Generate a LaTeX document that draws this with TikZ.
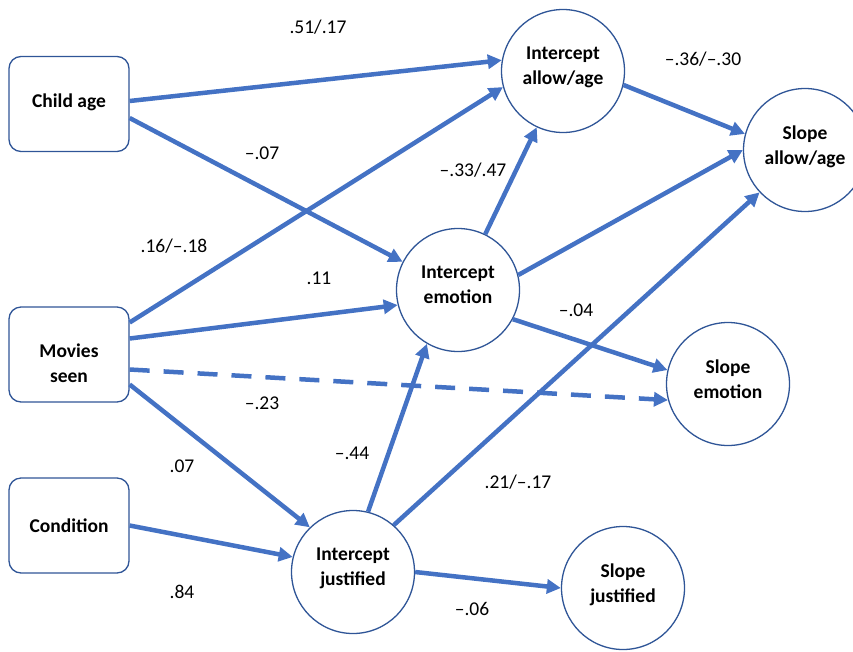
\documentclass[tikz,border=0pt]{standalone}
\usepackage{fontspec}
\setmainfont{Carlito}
\usetikzlibrary{arrows.meta}
\definecolor{arrowblue}{HTML}{4472C4}
\definecolor{rimblue}{HTML}{2F5597}
\begin{document}
\begin{tikzpicture}[x=1pt, y=-1pt,
  every node/.append style={font=\fontsize{19.5}{25}\selectfont},
  obs/.style={draw=rimblue, line width=1.3pt, rounded corners=12pt, minimum width=120pt,
    minimum height=95pt, align=center, font=\fontsize{19.5}{25}\selectfont\bfseries},
  lat/.style={circle, draw=rimblue, line width=1.3pt, fill=white, minimum size=123pt,
    inner sep=0pt, align=center, text depth=10pt, font=\fontsize{19.5}{25}\selectfont\bfseries},
  link/.style={draw=arrowblue, line width=4.5pt, -{Triangle[length=14pt,width=14pt]}},
  coef/.style={inner sep=0pt}]
  \useasboundingbox (0,0) rectangle (853,651);
  \node[obs, text depth=6pt] (age) at (69,104) {Child age};
  \node[obs, text height=56pt] (movies) at (69,354.5) {Movies\\seen};
  \node[obs] (cond) at (69,525.5) {Condition};
  \node[lat] (iallow) at (563,71) {Intercept\\allow/age};
  \node[lat] (sallow) at (805,150) {Slope\\allow/age};
  \node[lat] (iemo) at (458,290) {Intercept\\emotion};
  \node[lat] (semo) at (728,384) {Slope\\emotion};
  \node[lat] (ijust) at (353,572) {Intercept\\justified};
  \node[lat] (sjust) at (623,588) {Slope\\justified};

  \draw[link] ([yshift=3pt]age.east) -- (iallow.170);
  \draw[link] ([yshift=-14pt]age.east) -- (iemo.153);
  \draw[link] ([yshift=32pt]movies.east) -- (iallow.195);
  \draw[link] ([yshift=16pt]movies.east) -- (iemo.194);
  \draw[link, dash pattern=on 20pt off 14pt] ([yshift=-15pt]movies.east) -- (semo.195);
  \draw[link] ([yshift=-30pt]movies.east) -- (ijust.134);
  \draw[link] (cond.east) -- (ijust.166);
  \draw[link] (ijust.76) -- (iemo.240);
  \draw[link] (ijust.49) -- (sallow.223);
  \draw[link] (ijust.0) -- (sjust.180);
  \draw[link] (iemo.64) -- (iallow.245);
  \draw[link] (iemo.14) -- (sallow.180);
  \draw[link] (iemo.332) -- (semo.167);
  \draw[link] (iallow.347) -- (sallow.165);

  \node[coef] (w-age-iallow) at (318,27) {.51/.17};
  \node[coef] (w-age-iemo) at (262,153) {–.07};
  \node[coef] (w-mov-iallow) at (174,246) {.16/–.18};
  \node[coef] (w-mov-iemo) at (319,278) {.11};
  \node[coef] (w-iallow-sallow) at (703,59) {–.36/–.30};
  \node[coef] (w-iemo-iallow) at (473,170) {–.33/.47};
  \node[coef] (w-iemo-semo) at (576,310) {–.04};
  \node[coef] (w-mov-semo) at (262,403) {–.23};
  \node[coef] (w-ijust-iemo) at (352,453) {–.44};
  \node[coef] (w-mov-ijust) at (182,466) {.07};
  \node[coef] (w-cond-ijust) at (182,592) {.84};
  \node[coef] (w-ijust-sallow) at (518,482) {.21/–.17};
  \node[coef] (w-ijust-sjust) at (472,609) {–.06};
\end{tikzpicture}
\end{document}
